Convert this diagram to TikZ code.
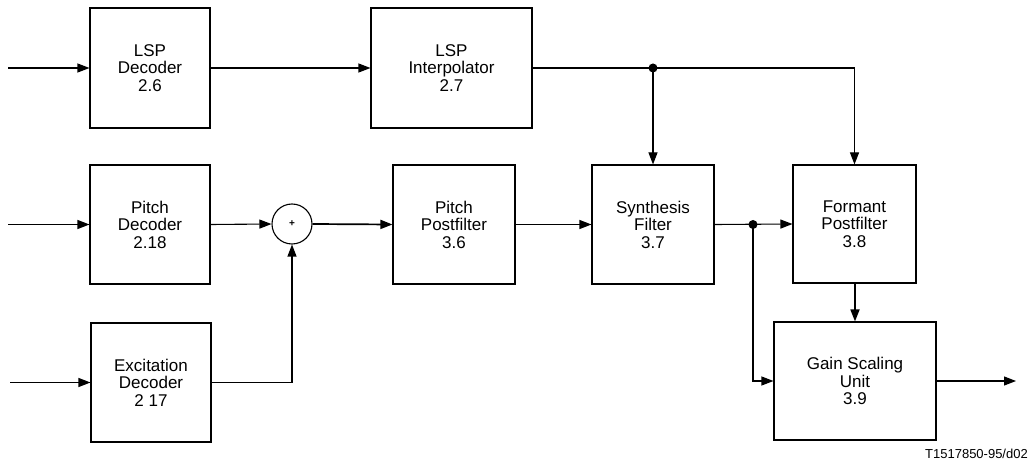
\documentclass[tikz,border=0pt]{standalone}
\usepackage{fontspec}
\setmainfont{Liberation Sans}
\usetikzlibrary{arrows.meta}
\begin{document}
\begin{tikzpicture}[x=1pt,y=-1pt,
  box/.style={draw, line width=1.1pt, inner sep=0pt, align=center,
    font=\fontsize{17}{17.5}\selectfont},
  conn/.style={line width=1.1pt, -{Triangle[length=12pt,width=9pt]}},
  plain/.style={line width=1.1pt},
  dotnode/.style={circle, fill, inner sep=0pt, minimum size=9pt}]
\useasboundingbox (0,0) rectangle (1031,462);

\node[box, minimum width=120pt, minimum height=120pt] (lspd) at (150,68) {LSP\\Decoder\\2.6};
\node[box, minimum width=161pt, minimum height=120pt] (interp) at (451.5,68) {LSP\\Interpolator\\2.7};
\node[box, minimum width=120pt, minimum height=119pt] (pitchd) at (150,224.5) {Pitch\\Decoder\\2.18};
\node[draw, circle, line width=1.1pt, minimum size=40pt, inner sep=0pt,
  font=\fontsize{10}{10}\selectfont\bfseries] (adder) at (292,224) {+};
\node[box, minimum width=122pt, minimum height=119pt] (ppf) at (454,224.5) {Pitch\\Postfilter\\3.6};
\node[box, minimum width=120pt, minimum height=119pt] (exc) at (151,382.5) {Excitation\\Decoder\\2 17};
\node[box, minimum width=122pt, minimum height=119pt] (synth) at (653,224.5) {Synthesis\\Filter\\3.7};
\node[box, minimum width=123pt, minimum height=118pt] (formant) at (854.5,224) {Formant\\Postfilter\\3.8};
\node[box, minimum width=162pt, minimum height=118pt] (gain) at (855,381) {Gain Scaling\\Unit\\3.9};

\coordinate (in1) at (8,68);
\coordinate (in2) at (8,224.5);
\coordinate (in3) at (10,382.5);
\coordinate (out) at (1016,381);
\node[dotnode] (j1) at (synth.north |- interp.east) {};
\node[dotnode] (j2) at (753,224.5) {};

\node[anchor=base east, inner sep=0pt, font=\fontsize{13}{13}\selectfont] (code) at (1028,458) {T1517850-95/d02};

\draw[conn] (in1) -- (lspd.west);
\draw[conn] (lspd.east) -- (interp.west);
\draw[conn] (in2) -- (pitchd.west);
\draw[conn] (pitchd.east) -- (adder.west);
\draw[conn, line width=1.7pt] (adder.east) -- (ppf.west);
\draw[conn] (ppf.east) -- (synth.west);
\draw[conn] (in3) -- (exc.west);
\draw[conn] (exc.east) -| (adder.south);
\draw[plain] (interp.east) -- (j1.center);
\draw[conn] (j1.center) -- (synth.north);
\draw[conn] (j1.center) -| (formant.north);
\draw[conn] (synth.east) -- (formant.west);
\draw[conn] (j2.center) |- (gain.west);
\draw[conn, line width=1.7pt] (formant.south -| gain.north) -- (gain.north);
\draw[conn] (gain.east) -- (out);
\end{tikzpicture}
\end{document}
